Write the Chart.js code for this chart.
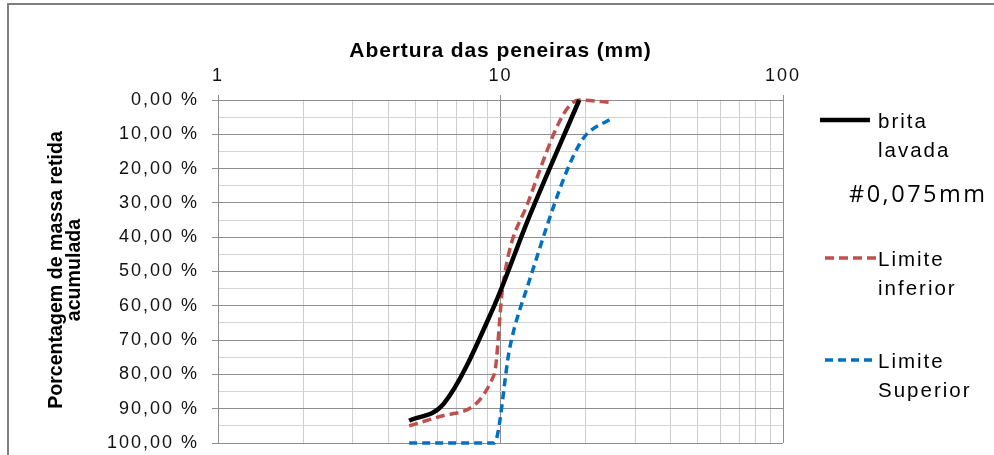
<!DOCTYPE html>
<html>
<head>
<meta charset="utf-8">
<script src="https://cdn.jsdelivr.net/npm/chart.js@4.4.1/dist/chart.umd.min.js"></script>
<style>
html, body { margin: 0; padding: 0; background: #fff; }
canvas { display: block; }
</style>
</head>
<body>
<canvas id="curva" width="994" height="455"></canvas>
<script>
// abertura das peneiras (mm) x porcentagem retida acumulada
var peneiraBrita = [4.75, 6.3, 9.5, 12.5, 19];
var retidaBrita = [93.5, 88.5, 60, 35, 0];
var peneiraInf = [4.75, 6.3, 9.5, 10.2, 12.5, 19, 25];
var retidaInf = [95, 92, 80, 54, 30, 0, 0.8];
var peneiraSup = [4.75, 6.3, 9.5, 10.8, 12.5, 19, 25];
var retidaSup = [100, 100, 100, 72, 54, 13, 5];
var rotulosX = [1, 10, 100];
var nomes = ['brita lavada', 'Limite inferior', 'Limite Superior'];
var notaLegenda = '#0,075mm';
var tituloX = 'Abertura das peneiras (mm)';
var tituloY = ['Porcentagem de massa retida', 'acumulada'];

function pares(xs, ys) {
    return xs.map((x, i) => ({ x: x, y: ys[i] }))
}
function decada(v) {
    return Math.abs(Math.log10(v) - Math.round(Math.log10(v))) < 1e-9
}

const legendaLateral = {
    id: 'legendaLateral',
    beforeDraw(chart) {
        chart.ctx.letterSpacing = '2px';
    },
    afterDraw(chart) {
        const ctx = chart.ctx;
        const area = chart.chartArea;
        ctx.save();
        ctx.letterSpacing = '0px';

        // moldura
        ctx.strokeStyle = '#808080';
        ctx.lineWidth = 2;
        ctx.beginPath();
        ctx.moveTo(8, 460);
        ctx.lineTo(8, 4);
        ctx.lineTo(1000, 4);
        ctx.stroke();

        // titulo do eixo x
        ctx.fillStyle = '#000';
        ctx.font = 'bold 21px "Liberation Sans", Arial, sans-serif';
        ctx.letterSpacing = '0.9px';
        ctx.textAlign = 'center';
        ctx.textBaseline = 'alphabetic';
        ctx.fillText(tituloX, (area.left + area.right) / 2, 57);

        // titulo do eixo y
        ctx.letterSpacing = '0px';
        ctx.font = 'bold 19.6px "Liberation Sans", Arial, sans-serif';
        ctx.translate(62, 270);
        ctx.rotate(-Math.PI / 2);
        ctx.fillText(tituloY[0], 0, 0);
        ctx.fillText(tituloY[1], 0, 18);
        ctx.restore();

        // legenda
        ctx.save();
        const linhaY = [120, 258, 360];
        chart.data.datasets.forEach((ds, i) => {
            ctx.strokeStyle = ds.borderColor;
            ctx.lineWidth = ds.borderWidth;
            ctx.setLineDash(ds.borderDash || []);
            ctx.beginPath();
            ctx.moveTo(i ? 825 : 820, linhaY[i]);
            ctx.lineTo(i ? 877 : 870, linhaY[i]);
            ctx.stroke();
            ctx.setLineDash([]);
            ctx.fillStyle = '#000';
            ctx.font = '20.5px "Liberation Sans", Arial, sans-serif';
            ctx.letterSpacing = '2px';
            ctx.textAlign = 'left';
            const partes = ds.label.split(' ');
            ctx.fillText(partes[0], 878, linhaY[i] + 8);
            ctx.fillText(partes.slice(1).join(' '), 878, linhaY[i] + 37);
        });
        ctx.font = '23.5px "Open Sans", sans-serif';
        ctx.letterSpacing = '2.5px';
        ctx.fillText(notaLegenda, 849, 202);
        ctx.restore();
    }
};

const ctx = document.getElementById('curva').getContext('2d');

const chart = new Chart(ctx, {
    type: 'scatter',
    data: {
        datasets: [
            {
                label: nomes[0],
                data: pares(peneiraBrita, retidaBrita),
                showLine: true,
                borderColor: '#000000',
                backgroundColor: 'transparent',
                borderWidth: 4.5,
                pointRadius: 0,
                cubicInterpolationMode: 'monotone',
                clip: false
            },
            {
                label: nomes[1],
                data: pares(peneiraInf, retidaInf),
                showLine: true,
                borderColor: '#C0504D',
                backgroundColor: 'transparent',
                borderWidth: 3.5,
                borderDash: [9, 5],
                pointRadius: 0,
                cubicInterpolationMode: 'monotone',
                clip: false
            },
            {
                label: nomes[2],
                data: pares(peneiraSup, retidaSup),
                showLine: true,
                borderColor: '#0070C0',
                backgroundColor: 'transparent',
                borderWidth: 3.5,
                borderDash: [8, 5],
                pointRadius: 0,
                cubicInterpolationMode: 'monotone',
                clip: false
            }
        ]
    },
    options: {
        responsive: false,
        animation: false,
        devicePixelRatio: 1,
        layout: { padding: { left: 0, top: 0, right: 211, bottom: 12 } },
        plugins: {
            legend: { display: false },
            tooltip: { enabled: false }
        },
        scales: {
            x: {
                type: 'logarithmic',
                position: 'top',
                min: 1,
                max: 100,
                afterFit: (s) => { s.height = 100; s.paddingLeft = 0; s.paddingRight = 0 },
                border: { color: '#8e8e8e', width: 1 },
                grid: {
                    color: (c) => decada(c.tick.value) ? '#8e8e8e' : '#cdcdcd',
                    tickColor: (c) => decada(c.tick.value) ? '#8e8e8e' : 'transparent',
                    tickLength: 5
                },
                ticks: {
                    autoSkip: false,
                    maxRotation: 0,
                    padding: 8,
                    color: '#111',
                    font: { family: '"Liberation Sans", Arial, sans-serif', size: 18 },
                    callback: (v) => rotulosX.includes(v) ? String(v) : ''
                },
                title: { display: false }
            },
            y: {
                reverse: true,
                min: 0,
                max: 100,
                afterFit: (s) => { s.width = 218; s.paddingTop = 0; s.paddingBottom = 0 },
                border: { color: '#8e8e8e', width: 1 },
                grid: {
                    color: (c) => c.tick.value % 10 === 0 ? '#8e8e8e' : '#d4d4d4',
                    tickColor: (c) => c.tick.value % 10 === 0 ? '#8e8e8e' : 'transparent',
                    tickLength: 6
                },
                ticks: {
                    stepSize: 5,
                    autoSkip: false,
                    padding: 13,
                    color: '#111',
                    font: { family: '"Liberation Sans", Arial, sans-serif', size: 18 },
                    callback: (v) => v % 10 === 0 ? v.toFixed(2).replace('.', ',') + ' %' : ''
                }
            }
        }
    },
    plugins: [legendaLateral]
});
</script>
</body>
</html>
